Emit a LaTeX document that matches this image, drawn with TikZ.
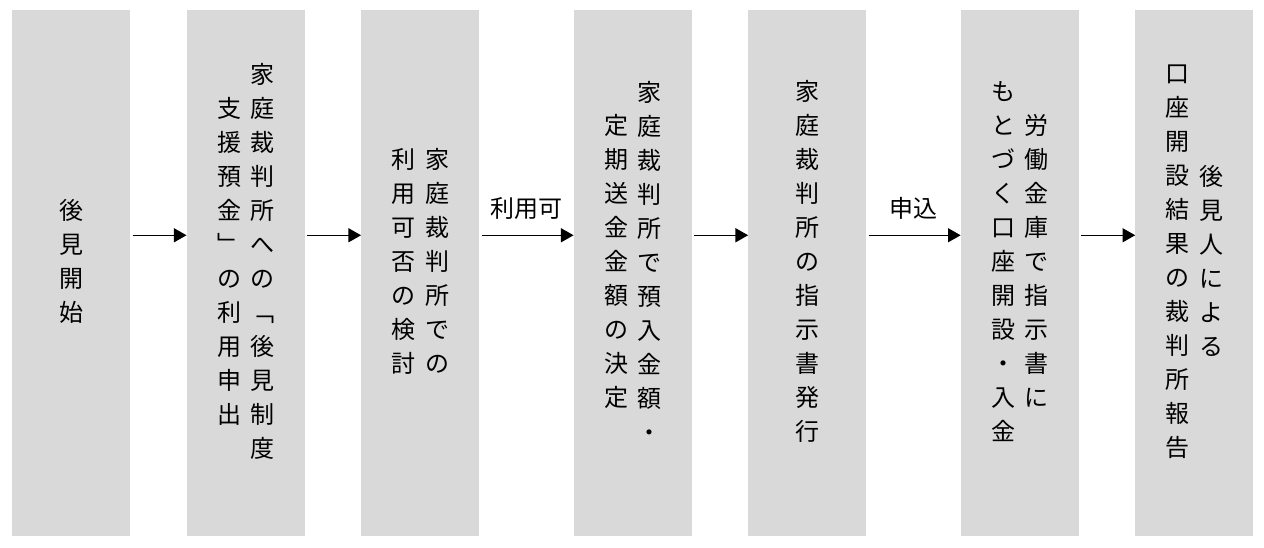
\documentclass[tikz,border=0pt]{standalone}
\usepackage{fontspec}
\setmainfont{Noto Sans CJK JP}
\usepackage{xcolor}
\usepackage{tikz}
\usetikzlibrary{positioning, arrows.meta}

\definecolor{boxgray}{RGB}{217,217,217}

% one vertical column of characters, centred on the axis
\makeatletter
\newcommand\tatecol[1]{$\vcenter{\baselineskip=25.5pt\lineskiplimit=-20pt
  \@tfor\tate@c:=#1\do{\hbox to 1em{\hss\tate@c\hss}}}$}
\makeatother

\begin{document}
\begin{tikzpicture}[
  font=\fontsize{18}{21}\selectfont, >={Triangle[length=9.5pt, width=10.5pt]},
  node distance=42pt,
  stage/.style={fill=boxgray, minimum width=88.5pt, minimum height=394.5pt, inner sep=0pt},
  tate/.style ={inner sep=0pt, yshift=9pt},
  flow/.style ={->, line width=1pt, shorten <=1.5pt},
  cond/.style ={inner sep=0pt, yshift=20pt}]
\useasboundingbox (0,0) rectangle (948pt,-411pt);
\node[stage, anchor=north west] (s1) at (9pt,-7.5pt) {};
\node[stage, right=of s1]        (s2) {};
\node[stage, right=of s2]        (s3) {};
\node[stage, right=70.5pt of s3] (s4) {};
\node[stage, right=of s4]        (s5) {};
\node[stage, right=70.5pt of s5] (s6) {};
\node[stage, right=of s6]        (s7) {};
\node[tate] (t1) at (s1) {\tatecol{後見開始}};
\node[tate] (t2) at (s2) {\tatecol{支援預金﹂の利用申出}\hspace{7pt}\tatecol{家庭裁判所への﹁後見制度}};
\node[tate] (t3) at (s3) {\tatecol{利用可否の検討}\hspace{7pt}\tatecol{家庭裁判所での}};
\node[tate] (t4) at (s4) {\tatecol{定期送金金額の決定}\hspace{7pt}\tatecol{家庭裁判所で預入金額・}};
\node[tate] (t5) at (s5) {\tatecol{家庭裁判所の指示書発行}};
\node[tate] (t6) at (s6) {\tatecol{もとづく口座開設・入金}\hspace{7pt}\tatecol{労働金庫で指示書に}};
\node[tate] (t7) at (s7) {\tatecol{口座開設結果の裁判所報告}\hspace{7pt}\tatecol{後見人による}};
\draw[flow] ([yshift=28.5pt]s1.east) -- ([yshift=28.5pt]s2.west);
\draw[flow] ([yshift=28.5pt]s2.east) -- ([yshift=28.5pt]s3.west);
\draw[flow] ([yshift=28.5pt]s3.east) -- node[cond] (c1) {利用可} ([yshift=28.5pt]s4.west);
\draw[flow] ([yshift=28.5pt]s4.east) -- ([yshift=28.5pt]s5.west);
\draw[flow] ([yshift=28.5pt]s5.east) -- node[cond] (c2) {申込} ([yshift=28.5pt]s6.west);
\draw[flow] ([yshift=28.5pt]s6.east) -- ([yshift=28.5pt]s7.west);
\end{tikzpicture}
\end{document}
